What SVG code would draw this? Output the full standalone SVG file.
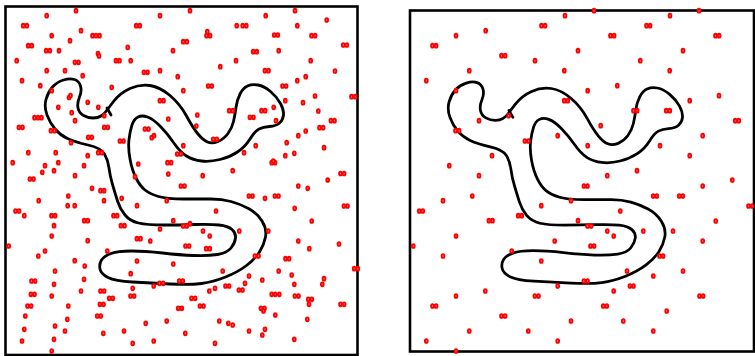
<svg xmlns="http://www.w3.org/2000/svg" xmlns:xlink="http://www.w3.org/1999/xlink" width="755" height="356" viewBox="0 0 755 356">
<style>
.box{fill:#fff;stroke:#000;stroke-width:2.6}
.loop{fill:none;stroke:#000;stroke-width:2.8;stroke-linejoin:round;stroke-linecap:round}
</style>
<defs>
<ellipse id="d" cx="0" cy="0" rx="1.4" ry="1.9" fill="#ff9090" stroke="#f00" stroke-width="1.9"/>
<g id="curve">
<path class="loop" d="M105.5,112 Q107,110 113.5,101.5 Q120,93 130,88.5 Q140,84 150,85.5 Q160,87 170,95.5 Q180,104 186.5,116 Q193,128 198,134 Q203,140 207.5,142 Q212,144 218,141.5 Q224,139 228,133.5 Q232,128 233.5,121.5 Q235,115 236,107.5 Q237,100 240,94 Q243,88 247.5,86 Q252,84 258,85 Q264,86 270.5,91.5 Q277,97 280.5,103.5 Q284,110 283.5,115 Q283,120 279.5,123 Q276,126 269.5,126.5 Q263,127 259,129 Q255,131 250,139 Q245,147 237.5,152 Q230,157 220,159.5 Q210,162 201.5,161 Q193,160 186.5,156 Q180,152 173.5,142.5 Q167,133 160,126 Q153,119 147.5,117 Q142,115 138,117 Q134,119 132,125 Q130,131 129,139.5 Q128,148 130,159 Q132,170 136,178 Q140,186 145,190 Q150,194 158.5,196.5 Q167,199 183.5,199 Q200,199 211,199 Q222,199 231,201.5 Q240,204 248.5,208.5 Q257,213 262,221 Q267,229 265.5,237 Q264,245 259.5,252 Q255,259 246.5,265.5 Q238,272 225.5,277 Q213,282 201.5,283.5 Q190,285 170,284 Q150,283 132.5,282 Q115,281 108,277.5 Q101,274 100,269 Q99,264 101.5,260 Q104,256 111,253.5 Q118,251 131.5,251 Q145,251 162.5,253 Q180,255 194,255.5 Q208,256 217.5,254.5 Q227,253 231,248 Q235,243 235.5,238 Q236,233 232,229.5 Q228,226 219,225 Q210,224 195,224.5 Q180,225 163.5,225 Q147,225 138.5,223 Q130,221 125,215 Q120,209 117.5,201 Q115,193 112.5,184.5 Q110,176 109,168 Q108,160 104.5,154 Q101,148 88,145 Q75,142 67.5,138.5 Q60,135 55,129 Q50,123 47,115 Q44,107 46,99.5 Q48,92 52.5,87 Q57,82 63.5,80 Q70,78 74.5,79.5 Q79,81 80.5,86 Q82,91 79.5,97 Q77,103 78,108 Q79,113 83.5,115.5 Q88,118 93,118 Q98,118 101,116 Q104,114 105.5,112 Z"/>
<path class="loop" d="M107,108 L111,115"/>
</g>
</defs>
<rect width="755" height="356" fill="#fff"/>
<g id="panel-left">
<rect class="box" x="5.5" y="6.5" width="352" height="348.5"/>
</g>
<g id="panel-right">
<rect class="box" x="410" y="10.5" width="344" height="341"/>
</g>
<g id="connectors">
<use href="#curve"/>
<use href="#curve" transform="matrix(0.983,0,0,0.98,403.8,4.7)"/>
</g>
<g id="dots-left">
<use href="#d" x="46.7" y="15.7"/><use href="#d" x="76" y="10.7"/><use href="#d" x="160" y="15.7"/>
<use href="#d" x="23.2" y="25.7"/><use href="#d" x="26.8" y="25.7"/>
<use href="#d" x="136.2" y="25.7"/><use href="#d" x="139.8" y="25.7"/>
<use href="#d" x="51.7" y="35.7"/><use href="#d" x="81" y="30.7"/>
<use href="#d" x="92.5" y="35.7"/><use href="#d" x="96" y="35.7"/><use href="#d" x="99.5" y="35.7"/>
<use href="#d" x="70" y="40.7"/>
<use href="#d" x="28.2" y="45.7"/><use href="#d" x="31.8" y="45.7"/>
<use href="#d" x="46.2" y="50.7"/><use href="#d" x="49.8" y="50.7"/>
<use href="#d" x="59" y="50.7"/><use href="#d" x="127.7" y="47.3"/><use href="#d" x="173" y="50.7"/>
<use href="#d" x="98" y="53.5"/><use href="#d" x="99" y="56"/>
<use href="#d" x="16.7" y="60.7"/>
<use href="#d" x="74.9" y="62.3"/><use href="#d" x="78.5" y="62.3"/>
<use href="#d" x="115.9" y="60.7"/><use href="#d" x="119.5" y="60.7"/>
<use href="#d" x="130.7" y="60.7"/><use href="#d" x="46.7" y="70.7"/><use href="#d" x="65" y="70.7"/>
<use href="#d" x="143.9" y="72.3"/><use href="#d" x="147.5" y="72.3"/>
<use href="#d" x="160" y="70.7"/><use href="#d" x="177.7" y="76.7"/><use href="#d" x="22" y="80.7"/>
<use href="#d" x="82.7" y="75.7"/><use href="#d" x="40.3" y="85.7"/><use href="#d" x="51.7" y="90.7"/>
<use href="#d" x="111.7" y="87.3"/><use href="#d" x="69" y="97.5"/><use href="#d" x="70.5" y="95.5"/>
<use href="#d" x="159.9" y="100.7"/><use href="#d" x="163.5" y="100.7"/>
<use href="#d" x="87.7" y="102.3"/><use href="#d" x="58.3" y="107.3"/><use href="#d" x="98.3" y="107.3"/>
<use href="#d" x="71.7" y="112.7"/><use href="#d" x="104.3" y="115.7"/>
<use href="#d" x="34.5" y="117.7"/><use href="#d" x="38" y="117.7"/><use href="#d" x="41.5" y="117.7"/>
<use href="#d" x="168.3" y="119"/><use href="#d" x="75" y="120.7"/>
<use href="#d" x="18.9" y="127.3"/><use href="#d" x="22.5" y="127.3"/>
<use href="#d" x="104.2" y="127.3"/><use href="#d" x="107.8" y="127.3"/>
<use href="#d" x="50.9" y="130.7"/><use href="#d" x="54.5" y="130.7"/>
<use href="#d" x="144.9" y="129"/><use href="#d" x="148.5" y="129"/>
<use href="#d" x="154" y="135.7"/><use href="#d" x="151.7" y="137.7"/>
<use href="#d" x="88.2" y="137.3"/><use href="#d" x="91.8" y="137.3"/>
<use href="#d" x="119.9" y="141"/><use href="#d" x="123.5" y="141"/>
<use href="#d" x="71" y="142.7"/><use href="#d" x="28.3" y="152.7"/><use href="#d" x="55.7" y="152.7"/>
<use href="#d" x="98.2" y="152.7"/><use href="#d" x="101.8" y="152.7"/>
<use href="#d" x="87.7" y="155.7"/>
<use href="#d" x="177.2" y="154"/><use href="#d" x="180.8" y="154"/>
<use href="#d" x="12.7" y="162.7"/><use href="#d" x="58.3" y="162.7"/><use href="#d" x="138.3" y="164"/>
<use href="#d" x="167.5" y="162.7"/><use href="#d" x="171.1" y="162.7"/>
<use href="#d" x="45" y="165.7"/><use href="#d" x="84" y="165.7"/><use href="#d" x="54" y="170.7"/>
<use href="#d" x="42.3" y="172.3"/><use href="#d" x="75" y="175.7"/><use href="#d" x="168.3" y="174"/>
<use href="#d" x="29.9" y="179"/><use href="#d" x="33.5" y="179"/>
<use href="#d" x="135" y="176.7"/>
<use href="#d" x="190" y="10.7"/><use href="#d" x="265.7" y="15.7"/><use href="#d" x="295" y="10.7"/><use href="#d" x="326.7" y="20"/>
<use href="#d" x="236.7" y="25.7"/><use href="#d" x="242.7" y="25.7"/><use href="#d" x="246.3" y="25.7"/>
<use href="#d" x="207.3" y="31.7"/><use href="#d" x="206.5" y="35.7"/><use href="#d" x="210.1" y="35.7"/>
<use href="#d" x="297.3" y="25.7"/>
<use href="#d" x="183.2" y="41.7"/><use href="#d" x="186.8" y="41.7"/>
<use href="#d" x="274.2" y="35"/><use href="#d" x="277.8" y="35"/>
<use href="#d" x="311.5" y="35.7"/><use href="#d" x="315.1" y="35.7"/>
<use href="#d" x="343.2" y="45"/><use href="#d" x="346.8" y="45"/>
<use href="#d" x="253.2" y="51.7"/><use href="#d" x="256.8" y="51.7"/>
<use href="#d" x="278.7" y="50.7"/><use href="#d" x="236" y="60.7"/><use href="#d" x="310.7" y="60.7"/><use href="#d" x="220.3" y="66.7"/>
<use href="#d" x="264.9" y="70.7"/><use href="#d" x="268.5" y="70.7"/>
<use href="#d" x="335" y="71"/><use href="#d" x="297.3" y="80.7"/><use href="#d" x="305.7" y="76.7"/><use href="#d" x="183.3" y="90.7"/>
<use href="#d" x="208.2" y="86"/><use href="#d" x="211.8" y="86"/>
<use href="#d" x="282.5" y="86"/><use href="#d" x="286.1" y="86"/>
<use href="#d" x="315" y="96"/>
<use href="#d" x="351.5" y="96.7"/><use href="#d" x="355.1" y="96.7"/>
<use href="#d" x="285.3" y="100.7"/><use href="#d" x="197.3" y="115"/>
<use href="#d" x="229.2" y="110.7"/><use href="#d" x="232.8" y="110.7"/>
<use href="#d" x="261.5" y="110.7"/><use href="#d" x="265.1" y="110.7"/>
<use href="#d" x="273.7" y="107.3"/><use href="#d" x="303" y="102.7"/><use href="#d" x="318.3" y="111"/>
<use href="#d" x="249.9" y="117.3"/><use href="#d" x="253.5" y="117.3"/>
<use href="#d" x="276" y="120.7"/>
<use href="#d" x="330.9" y="120.7"/><use href="#d" x="334.5" y="120.7"/>
<use href="#d" x="196.3" y="126"/>
<use href="#d" x="319.5" y="127.7"/><use href="#d" x="323.1" y="127.7"/>
<use href="#d" x="298.3" y="135.7"/><use href="#d" x="305.7" y="131"/>
<use href="#d" x="213.2" y="139.3"/><use href="#d" x="216.8" y="139.3"/>
<use href="#d" x="183.3" y="145.7"/><use href="#d" x="255.7" y="145.7"/><use href="#d" x="286.7" y="142.7"/><use href="#d" x="324" y="147.7"/>
<use href="#d" x="244" y="152.7"/><use href="#d" x="285.3" y="155.7"/><use href="#d" x="294.3" y="153.3"/>
<use href="#d" x="271.7" y="162.7"/><use href="#d" x="275" y="162.7"/><use href="#d" x="273.3" y="161"/>
<use href="#d" x="202.7" y="175.7"/><use href="#d" x="232.7" y="170.7"/>
<use href="#d" x="340.5" y="173.5"/><use href="#d" x="344.1" y="173.5"/>
<use href="#d" x="327.7" y="180"/>
<use href="#d" x="92" y="188.3"/>
<use href="#d" x="100.5" y="190.7"/><use href="#d" x="104.1" y="190.7"/>
<use href="#d" x="38.7" y="200.7"/><use href="#d" x="68.3" y="196"/><use href="#d" x="67.7" y="205.7"/><use href="#d" x="74.7" y="205.7"/>
<use href="#d" x="104" y="200.7"/><use href="#d" x="121.7" y="198.3"/>
<use href="#d" x="15.5" y="211"/><use href="#d" x="19.1" y="211"/>
<use href="#d" x="24.3" y="215.7"/>
<use href="#d" x="51.5" y="215.7"/><use href="#d" x="55.1" y="215.7"/>
<use href="#d" x="54" y="225.7"/>
<use href="#d" x="84.2" y="220.7"/><use href="#d" x="87.8" y="220.7"/>
<use href="#d" x="113.5" y="215.7"/><use href="#d" x="117.1" y="215.7"/>
<use href="#d" x="120.9" y="225.7"/><use href="#d" x="124.5" y="225.7"/>
<use href="#d" x="137" y="205.7"/><use href="#d" x="166.7" y="200.7"/><use href="#d" x="173.3" y="220.7"/><use href="#d" x="160" y="229"/>
<use href="#d" x="51.7" y="236"/><use href="#d" x="87.7" y="240.7"/>
<use href="#d" x="136.9" y="238.7"/><use href="#d" x="140.5" y="238.7"/>
<use href="#d" x="150.3" y="241"/><use href="#d" x="8.7" y="246"/><use href="#d" x="45" y="251"/><use href="#d" x="38.3" y="256"/>
<use href="#d" x="107.3" y="251"/><use href="#d" x="74.7" y="260.7"/><use href="#d" x="84.7" y="266"/><use href="#d" x="137" y="261"/>
<use href="#d" x="173.3" y="264"/><use href="#d" x="55" y="271"/><use href="#d" x="130.7" y="273.7"/>
<use href="#d" x="31.5" y="281"/><use href="#d" x="35.1" y="281"/>
<use href="#d" x="84" y="279.3"/><use href="#d" x="54" y="284.3"/><use href="#d" x="132.7" y="288.3"/><use href="#d" x="153.7" y="286"/>
<use href="#d" x="159.5" y="283.3"/><use href="#d" x="163.1" y="283.3"/>
<use href="#d" x="179.2" y="281"/><use href="#d" x="182.8" y="281"/>
<use href="#d" x="30.9" y="294.3"/><use href="#d" x="34.5" y="294.3"/>
<use href="#d" x="51.7" y="296"/><use href="#d" x="81" y="291"/>
<use href="#d" x="100.5" y="291"/><use href="#d" x="104.1" y="291"/>
<use href="#d" x="109.2" y="298.3"/><use href="#d" x="112.8" y="298.3"/>
<use href="#d" x="130.5" y="296"/><use href="#d" x="134.1" y="296"/>
<use href="#d" x="27.5" y="306"/><use href="#d" x="31.1" y="306"/>
<use href="#d" x="68.3" y="306"/>
<use href="#d" x="99.9" y="304.3"/><use href="#d" x="103.5" y="304.3"/>
<use href="#d" x="178.2" y="308.3"/><use href="#d" x="181.8" y="308.3"/>
<use href="#d" x="25.3" y="316"/>
<use href="#d" x="97.2" y="316"/><use href="#d" x="100.8" y="316"/>
<use href="#d" x="67.3" y="319.3"/><use href="#d" x="145.7" y="323.3"/><use href="#d" x="166.7" y="321"/>
<use href="#d" x="24.3" y="329.3"/><use href="#d" x="55" y="326"/><use href="#d" x="65" y="331"/><use href="#d" x="103.3" y="333.3"/>
<use href="#d" x="124" y="331"/><use href="#d" x="22" y="341"/><use href="#d" x="54" y="339.3"/><use href="#d" x="132.7" y="343.3"/>
<use href="#d" x="153.7" y="341"/><use href="#d" x="51.7" y="351"/>
<use href="#d" x="180.9" y="186"/><use href="#d" x="184.5" y="186"/>
<use href="#d" x="298.3" y="186"/><use href="#d" x="307.7" y="188.3"/>
<use href="#d" x="248.9" y="196"/><use href="#d" x="252.5" y="196"/>
<use href="#d" x="274.9" y="196"/><use href="#d" x="278.5" y="196"/>
<use href="#d" x="265" y="198.3"/><use href="#d" x="216" y="211"/><use href="#d" x="294.7" y="208.3"/>
<use href="#d" x="343.9" y="206"/><use href="#d" x="347.5" y="206"/>
<use href="#d" x="311.7" y="221"/>
<use href="#d" x="183.2" y="226"/><use href="#d" x="186.8" y="226"/><use href="#d" x="190" y="223.7"/>
<use href="#d" x="203" y="231"/><use href="#d" x="209.7" y="236"/><use href="#d" x="239.3" y="231"/><use href="#d" x="268.3" y="231"/>
<use href="#d" x="298.3" y="241"/>
<use href="#d" x="185.5" y="246"/><use href="#d" x="189.1" y="246"/>
<use href="#d" x="206.2" y="248.7"/><use href="#d" x="209.8" y="248.7"/>
<use href="#d" x="309.3" y="248.7"/><use href="#d" x="339" y="244"/>
<use href="#d" x="254.9" y="256"/><use href="#d" x="258.5" y="256"/>
<use href="#d" x="285.5" y="258.7"/><use href="#d" x="289.1" y="258.7"/>
<use href="#d" x="222.7" y="271"/><use href="#d" x="278.7" y="271"/>
<use href="#d" x="354.2" y="268.7"/><use href="#d" x="357.8" y="268.7"/>
<use href="#d" x="249" y="276"/><use href="#d" x="262.3" y="280"/><use href="#d" x="291.7" y="275"/><use href="#d" x="324" y="278.7"/>
<use href="#d" x="322.3" y="284.3"/><use href="#d" x="245" y="283.3"/>
<use href="#d" x="225.5" y="286"/><use href="#d" x="229.1" y="286"/>
<use href="#d" x="294.3" y="284.3"/><use href="#d" x="215" y="288.3"/><use href="#d" x="209.3" y="291"/>
<use href="#d" x="238.9" y="290"/><use href="#d" x="242.5" y="290"/>
<use href="#d" x="271.7" y="294.3"/><use href="#d" x="275.2" y="294.3"/><use href="#d" x="279.3" y="294.3"/>
<use href="#d" x="294.9" y="296"/><use href="#d" x="298.5" y="296"/>
<use href="#d" x="191.5" y="298.3"/><use href="#d" x="195.1" y="298.3"/>
<use href="#d" x="308.2" y="299.3"/><use href="#d" x="311.8" y="299.3"/><use href="#d" x="309" y="304.3"/>
<use href="#d" x="340.5" y="304.3"/><use href="#d" x="344.1" y="304.3"/>
<use href="#d" x="199.9" y="306"/><use href="#d" x="203.5" y="306"/>
<use href="#d" x="260.9" y="308.3"/><use href="#d" x="264.5" y="308.3"/><use href="#d" x="263.5" y="311"/>
<use href="#d" x="275.3" y="315"/><use href="#d" x="307.3" y="319.3"/><use href="#d" x="219.3" y="321"/>
<use href="#d" x="228.3" y="323.3"/><use href="#d" x="232.7" y="325"/>
<use href="#d" x="249" y="331"/><use href="#d" x="265" y="329.3"/><use href="#d" x="262.3" y="335"/>
<use href="#d" x="185.3" y="333.3"/><use href="#d" x="294.3" y="339.3"/><use href="#d" x="215" y="343.3"/>
</g>
<g id="dots-right">
<use href="#d" x="565" y="15.7"/>
<use href="#d" x="541.5" y="25.7"/><use href="#d" x="545.1" y="25.7"/>
<use href="#d" x="456" y="35.7"/><use href="#d" x="485.7" y="30.7"/>
<use href="#d" x="432.5" y="45.7"/><use href="#d" x="436.1" y="45.7"/>
<use href="#d" x="501.5" y="55.7"/><use href="#d" x="505.1" y="55.7"/>
<use href="#d" x="535" y="60.7"/><use href="#d" x="578" y="50.7"/><use href="#d" x="469.3" y="70.7"/><use href="#d" x="564.3" y="70.7"/>
<use href="#d" x="426.3" y="80.7"/><use href="#d" x="456" y="90.7"/>
<use href="#d" x="564.2" y="100.7"/><use href="#d" x="567.8" y="100.7"/>
<use href="#d" x="508.7" y="115.7"/><use href="#d" x="479" y="120.7"/>
<use href="#d" x="455.5" y="130.7"/><use href="#d" x="459.1" y="130.7"/>
<use href="#d" x="524.9" y="141"/><use href="#d" x="528.5" y="141"/>
<use href="#d" x="557.7" y="135.7"/><use href="#d" x="492" y="155.7"/><use href="#d" x="449.3" y="165.7"/><use href="#d" x="479" y="175.7"/>
<use href="#d" x="594" y="10.7"/><use href="#d" x="670" y="15.7"/><use href="#d" x="699" y="10.7"/>
<use href="#d" x="646.5" y="25.7"/><use href="#d" x="650.1" y="25.7"/>
<use href="#d" x="610.5" y="35.7"/><use href="#d" x="614.1" y="35.7"/>
<use href="#d" x="715.5" y="35.7"/><use href="#d" x="719.1" y="35.7"/>
<use href="#d" x="683" y="50.7"/><use href="#d" x="640.3" y="60.7"/><use href="#d" x="669.7" y="70.7"/>
<use href="#d" x="587.7" y="90.7"/><use href="#d" x="617.3" y="85.7"/><use href="#d" x="719" y="95.7"/><use href="#d" x="689.7" y="100.7"/>
<use href="#d" x="633.5" y="110.7"/><use href="#d" x="637.1" y="110.7"/>
<use href="#d" x="666.2" y="110.7"/><use href="#d" x="669.8" y="110.7"/>
<use href="#d" x="735.2" y="120.7"/><use href="#d" x="738.8" y="120.7"/>
<use href="#d" x="600.7" y="125.7"/><use href="#d" x="702.7" y="135.7"/><use href="#d" x="587.7" y="145.7"/><use href="#d" x="660" y="145.7"/>
<use href="#d" x="689.7" y="155.7"/><use href="#d" x="637" y="170.7"/><use href="#d" x="607.3" y="175.7"/><use href="#d" x="732.3" y="180"/>
<use href="#d" x="443" y="200.7"/><use href="#d" x="472.3" y="196"/>
<use href="#d" x="419.2" y="211"/><use href="#d" x="422.8" y="211"/>
<use href="#d" x="488.9" y="220.7"/><use href="#d" x="492.5" y="220.7"/>
<use href="#d" x="518.2" y="215.7"/><use href="#d" x="521.8" y="215.7"/>
<use href="#d" x="541.3" y="205.7"/><use href="#d" x="571" y="200.7"/><use href="#d" x="578" y="220.7"/>
<use href="#d" x="456" y="236"/><use href="#d" x="554.7" y="241"/><use href="#d" x="413.3" y="246"/><use href="#d" x="443" y="256"/>
<use href="#d" x="511.7" y="251"/><use href="#d" x="541.3" y="261"/><use href="#d" x="557.7" y="286"/><use href="#d" x="456" y="296"/>
<use href="#d" x="485.3" y="291"/>
<use href="#d" x="534.9" y="296"/><use href="#d" x="538.5" y="296"/>
<use href="#d" x="432.5" y="306"/><use href="#d" x="436.1" y="306"/>
<use href="#d" x="501.5" y="316"/><use href="#d" x="505.1" y="316"/>
<use href="#d" x="571" y="321"/><use href="#d" x="469.3" y="331"/><use href="#d" x="528.3" y="331"/><use href="#d" x="426.3" y="341"/>
<use href="#d" x="557.7" y="341"/><use href="#d" x="456" y="351"/>
<use href="#d" x="583.9" y="186"/><use href="#d" x="587.5" y="186"/>
<use href="#d" x="702.7" y="186"/>
<use href="#d" x="653.2" y="196"/><use href="#d" x="656.8" y="196"/>
<use href="#d" x="679.2" y="196"/><use href="#d" x="682.8" y="196"/>
<use href="#d" x="748.5" y="206"/><use href="#d" x="752.1" y="206"/>
<use href="#d" x="620.3" y="211"/><use href="#d" x="715.7" y="221"/>
<use href="#d" x="587.5" y="226"/><use href="#d" x="591.1" y="226"/>
<use href="#d" x="607.3" y="231"/><use href="#d" x="613.7" y="236"/><use href="#d" x="643.3" y="231"/><use href="#d" x="673" y="231"/>
<use href="#d" x="702.7" y="241"/>
<use href="#d" x="590.5" y="246"/><use href="#d" x="594.1" y="246"/>
<use href="#d" x="659.5" y="256"/><use href="#d" x="663.1" y="256"/>
<use href="#d" x="627" y="271"/><use href="#d" x="683" y="271"/><use href="#d" x="653.3" y="276"/>
<use href="#d" x="583.9" y="281"/><use href="#d" x="587.5" y="281"/>
<use href="#d" x="629.9" y="286"/><use href="#d" x="633.5" y="286"/>
<use href="#d" x="613.7" y="291"/>
<use href="#d" x="699.5" y="296"/><use href="#d" x="703.1" y="296"/>
<use href="#d" x="603.2" y="306"/><use href="#d" x="606.8" y="306"/>
<use href="#d" x="666.7" y="311"/><use href="#d" x="623.3" y="321"/><use href="#d" x="653.3" y="331"/>
</g>
</svg>
